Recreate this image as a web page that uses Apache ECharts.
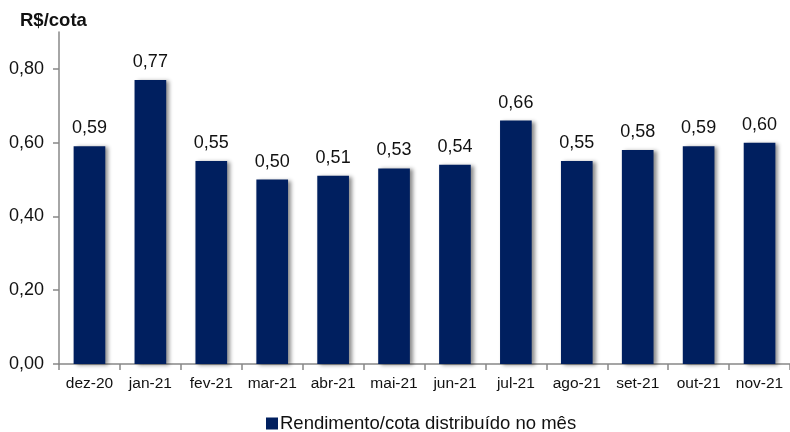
<!DOCTYPE html>
<html><head><meta charset="utf-8">
<script src="https://cdn.jsdelivr.net/npm/echarts@6/dist/echarts.min.js"></script>
<style>html,body{margin:0;padding:0;background:#fff}#c{width:790px;height:432px}</style>
</head><body><div id="c"></div>
<script>
var categories = ['dez-20','jan-21','fev-21','mar-21','abr-21','mai-21','jun-21','jul-21','ago-21','set-21','out-21','nov-21'];
var values = [0.59,0.77,0.55,0.50,0.51,0.53,0.54,0.66,0.55,0.58,0.59,0.60];
var yTicks = [0,0.2,0.4,0.6,0.8];
var seriesName = 'Rendimento/cota distribuído no mês';
var unitTitle = 'R$/cota';
function fmt(v){return v.toFixed(2).replace('.',',');}
var chart = echarts.init(document.getElementById('c'));
chart.setOption({
  animation:false,
  textStyle:{fontFamily:'Liberation Sans, Arial, sans-serif'},
  title:{text:unitTitle,left:15,top:6,textStyle:{fontSize:18.5,fontWeight:'bold',color:'#111',fontFamily:'Liberation Sans, Arial, sans-serif'}},
  grid:{left:59,right:-7,top:32,bottom:68,containLabel:false},
  legend:{left:266,top:414,padding:0,itemWidth:12,itemHeight:12,itemGap:6,icon:'rect',
    textStyle:{fontSize:18.5,color:'#111',padding:[0,0,0,-3]},data:[seriesName]},
  xAxis:{type:'category',data:categories,
    axisLine:{lineStyle:{color:'#888',width:1.5}},
    axisTick:{show:true,alignWithLabel:false,interval:0,length:6,lineStyle:{color:'#888',width:1.5}},
    axisLabel:{fontSize:15.5,color:'#111',margin:12,interval:0}},
  yAxis:{type:'value',min:0,max:0.9,interval:0.1,
    axisLine:{show:true,lineStyle:{color:'#888',width:1.5}},
    axisTick:{show:true,length:6,customValues:yTicks,lineStyle:{color:'#888',width:1.5}},
    axisLabel:{fontSize:18,color:'#111',margin:15,customValues:yTicks,formatter:function(v){return fmt(v);}},
    splitLine:{show:false}},
  series:[{name:seriesName,type:'bar',data:values,barCategoryGap:'48%',
    itemStyle:{color:'#001f5f',shadowColor:'rgba(0,0,0,0.45)',shadowBlur:4,shadowOffsetX:3,shadowOffsetY:1},
    label:{show:true,position:'top',distance:9,fontSize:18,color:'#111',formatter:function(p){return fmt(p.value);}}}]
});
</script></body></html>
